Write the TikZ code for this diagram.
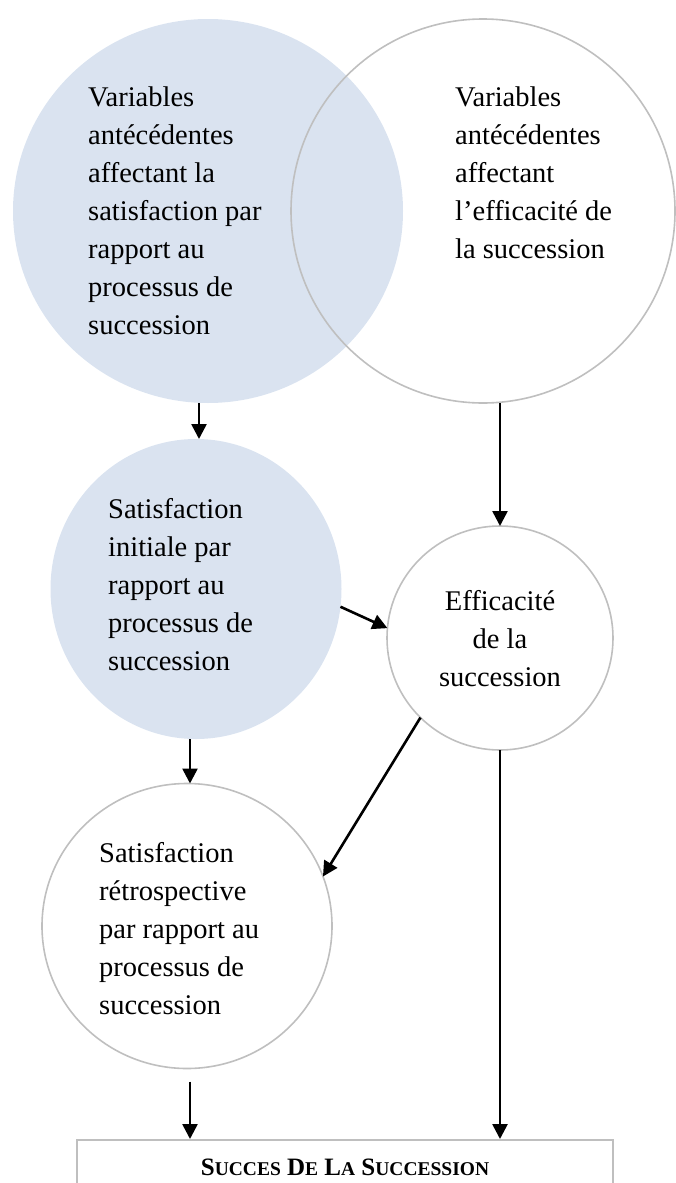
\documentclass[tikz,border=0pt]{standalone}
\usepackage{fontspec}
\setmainfont{Liberation Serif}
\usetikzlibrary{shapes.geometric,arrows.meta}
\definecolor{softblue}{HTML}{DAE3F0}
\definecolor{rimgray}{HTML}{BFBFBF}
% reduced capitals for the title in the bottom box
\newcommand\lowcaps[1]{{\fontsize{19.5}{20}\selectfont #1}}
\begin{document}
\begin{tikzpicture}[x=1pt,y=-1pt,
  bubble/.style={ellipse, inner sep=0pt, outer sep=0pt},
  shaded/.style={bubble, fill=softblue},
  ringed/.style={bubble, draw=rimgray, line width=1.6pt},
  bodytext/.style={inner sep=0pt, align=left, anchor=north west,
    font=\fontsize{28.5}{38}\selectfont},
  arr/.style={line width=2.6pt, -{Triangle[length=15pt,width=15pt]}}
]
\useasboundingbox (0,0) rectangle (676,1183);
\clip (0,0) rectangle (676,1183);

% filled bubbles
\node[shaded, minimum width=390pt, minimum height=384pt] (c1) at (208,211) {};
\node[shaded, minimum width=291pt, minimum height=300pt] (c3) at (196,589) {};
% outlined bubbles
\node[ringed, minimum width=384pt, minimum height=384pt] (c2) at (483,211) {};
\node[ringed, minimum width=226pt, minimum height=224pt] (c4) at (500,638) {};
\node[ringed, minimum width=290pt, minimum height=285pt] (c5) at (187,926) {};

% texts
\node[bodytext] (t1) at (88,87) {Variables\\antécédentes\\affectant la\\satisfaction par\\rapport au\\processus de\\succession};
\node[bodytext] (t2) at (455,87) {Variables\\antécédentes\\affectant\\l’efficacité de\\la succession};
\node[bodytext] (t3) at (108,498.5) {Satisfaction\\initiale par\\rapport au\\processus de\\succession};
\node[bodytext, align=center, anchor=north] (t4) at (500,590.4) {Efficacité\\de la\\succession};
\node[bodytext] (t5) at (99,842.5) {Satisfaction\\rétrospective\\par rapport au\\processus de\\succession};

% result box
\node[draw=rimgray, line width=1.6pt, anchor=north, minimum width=536pt,
  inner ysep=19pt, text height=17pt, text depth=6pt,
  font=\fontsize{25}{26}\selectfont\bfseries] (box) at (345,1139)
  {S\lowcaps{UCCES} D\lowcaps{E} L\lowcaps{A} S\lowcaps{UCCESSION}};

% arrows
\draw[arr] ([xshift=3pt]c1.south -| c3.north) -- ([xshift=3pt]c3.north);
\draw[arr] (c2.south -| c4.north) -- (c4.north);
\draw[arr] (c3.-7) -- (c4.175);
\draw[arr] (c4.225) -- (c5.20);
\draw[arr] ([xshift=3pt]c3.south -| c5.north) -- ([xshift=3pt]c5.north);
\draw[arr] ([xshift=3pt,yshift=-13pt]c5.south) -- ([xshift=3pt]c5.south |- box.north);
\draw[arr] (c4.south) -- (c4.south |- box.north);
\end{tikzpicture}
\end{document}
